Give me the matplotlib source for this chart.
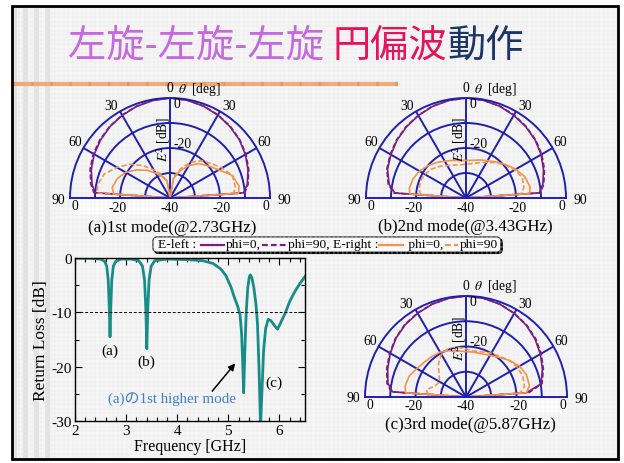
import matplotlib.pyplot as plt
import numpy as np
from matplotlib.patches import Rectangle, FancyBboxPatch
from matplotlib.ticker import MultipleLocator

plt.rcParams['font.family'] = ['Liberation Serif', 'Noto Sans CJK JP']
plt.rcParams['mathtext.fontset'] = 'stix'
plt.rcParams['axes.unicode_minus'] = False

W, H = 624, 464

# ---- return loss measurement ----
freq = [2.0, 2.3, 2.5, 2.58, 2.62, 2.65, 2.67, 2.685, 2.70, 2.72, 2.75, 2.8, 2.9,
        3.1, 3.25, 3.32, 3.36, 3.385, 3.405, 3.425, 3.45, 3.49, 3.56, 3.8,
        4.2, 4.5, 4.7, 4.85, 4.95, 5.05, 5.12, 5.18, 5.23, 5.26, 5.28, 5.30,
        5.32, 5.35, 5.38, 5.41, 5.43, 5.46, 5.50, 5.54, 5.57, 5.60, 5.63,
        5.66, 5.69, 5.73, 5.78, 5.83, 5.90, 5.96, 6.00, 6.05, 6.12, 6.20,
        6.30, 6.40, 6.50]
return_loss = [-0.05, -0.05, -0.2, -0.6, -1.5, -4.0, -9.0, -14.5, -9.0, -4.0, -1.5, -0.6, -0.2,
               -0.2, -0.5, -1.5, -4.0, -9.0, -16.7, -9.0, -4.0, -1.5, -0.5, -0.2,
               -0.3, -0.5, -1.0, -2.0, -3.2, -5.3, -7.3, -8.8, -10.5, -14.0, -19.0, -24.8,
               -18.0, -10.0, -5.5, -3.5, -3.1, -3.6, -5.5, -8.5, -12.0, -20.0, -31.0,
               -24.0, -17.0, -13.0, -11.3, -11.5, -12.4, -13.1, -12.4, -11.4, -10.0, -8.0,
               -6.2, -4.7, -3.4]

# ---- radiation patterns E^2 [dB] ----
theta_deg = [-90, -86, -80, -70, -60, -50, -40, -30, -20, -10, 0,
             10, 20, 30, 40, 50, 60, 70, 80, 86, 90]

a_left_phi0 = [-40, -10.0, -8.3, -6.5, -5.0, -3.8, -2.7, -1.8, -1.0, -0.4, 0.0,
               -0.3, -0.9, -1.7, -2.7, -3.8, -5.2, -6.8, -8.6, -10.5, -40]
a_left_phi90 = [-40, -9.5, -7.8, -6.0, -4.6, -3.5, -2.5, -1.7, -0.9, -0.3, 0.0,
                -0.3, -0.8, -1.6, -2.5, -3.6, -4.9, -6.5, -8.3, -10.0, -40]
a_right_phi0 = [-40, -17.5, -16.5, -17.5, -19.5, -22.5, -25.5, -28.5, -31.0, -33.0, -40,
                -32.0, -28.5, -25.0, -22.0, -20.0, -17.5, -13.5, -12.0, -12.5, -40]
a_right_phi90 = [-40, -11.0, -10.5, -12.0, -15.5, -19.0, -23.0, -27.0, -30.0, -33.0, -40,
                 -31.5, -27.5, -23.5, -20.5, -18.5, -16.0, -13.5, -13.5, -14.5, -40]

b_left_phi0 = [-40, -11.5, -8.8, -6.6, -5.3, -4.0, -2.9, -1.9, -1.0, -0.4, 0.0,
               -0.3, -0.9, -1.8, -2.8, -3.9, -5.3, -7.0, -8.8, -10.6, -40]
b_left_phi90 = [-40, -11.0, -8.4, -6.3, -5.0, -3.8, -2.7, -1.8, -0.9, -0.3, 0.0,
                -0.3, -0.8, -1.6, -2.6, -3.7, -5.0, -6.6, -8.4, -10.2, -40]
b_right_phi0 = [-40, -17.5, -17.0, -17.5, -18.5, -20.0, -21.5, -23.0, -24.0, -24.8, -25.0,
                -24.7, -23.8, -22.8, -21.2, -19.2, -17.0, -15.0, -14.0, -14.5, -40]
b_right_phi90 = [-40, -22.0, -21.0, -20.5, -21.0, -22.0, -23.5, -25.0, -26.0, -26.5, -26.5,
                 -26.0, -25.0, -23.5, -21.5, -19.5, -17.5, -16.0, -16.5, -18.0, -40]

c_left_phi0 = [-40, -10.8, -8.6, -7.0, -5.4, -3.8, -2.6, -1.7, -0.9, -0.3, 0.0,
               -0.3, -0.9, -1.8, -2.9, -4.3, -6.0, -7.8, -9.8, -16.0, -40]
c_left_phi90 = [-40, -10.3, -8.2, -6.6, -5.1, -3.6, -2.4, -1.6, -0.8, -0.3, 0.0,
                -0.3, -0.8, -1.7, -2.7, -4.0, -5.6, -7.4, -9.4, -15.0, -40]
c_right_phi0 = [-40, -16.0, -15.5, -16.0, -17.5, -18.5, -19.0, -19.5, -20.5, -21.5, -22.0,
                -22.0, -21.8, -21.0, -19.5, -17.5, -15.5, -14.5, -14.5, -16.0, -40]
c_right_phi90 = [-40, -25.0, -24.0, -27.0, -28.0, -26.0, -23.0, -20.5, -19.5, -20.0, -21.0,
                 -21.5, -21.0, -20.0, -19.0, -17.5, -16.5, -16.0, -16.5, -18.5, -40]

captions = ['(a)1st mode(@2.73GHz)', '(b)2nd mode(@3.43GHz)', '(c)3rd mode(@5.87GHz)']

BLUE = '#2020b0'
PURPLE = '#7a1f80'
ORANGE = '#f0944e'
TEAL = '#178c88'

fig = plt.figure(figsize=(W / 100, H / 100), dpi=100)
fig.patch.set_facecolor('white')

# slide background, drawn in pixel coordinates
bg = fig.add_axes([0, 0, 1, 1], zorder=-5)
bg.set_xlim(0, W)
bg.set_ylim(H, 0)
bg.axis('off')
bg.add_patch(Rectangle((12, 7), 606, 453, facecolor='#f5f5f5', edgecolor='none'))
for gx in np.arange(14, 618, 4.5):
    bg.plot([gx, gx], [7, 460], color='#eaeaea', lw=0.35)
for gy in np.arange(9, 460, 4.5):
    bg.plot([12, 618], [gy, gy], color='#eaeaea', lw=0.35)
for sx in np.arange(12, 55, 11):
    bg.add_patch(Rectangle((sx, 7), 5, 453, facecolor='#e1e1e1', edgecolor='none'))
bg.plot([12, 398], [85, 85], color='#ecab7a', lw=3, solid_capstyle='butt')
bg.plot([12, 398], [85, 85], color='#e09a66', lw=3, dashes=(0.6, 4))
bg.add_patch(Rectangle((12, 7), 606, 453, facecolor='none', edgecolor='black', lw=2, zorder=10))

renderer = fig.canvas.get_renderer()
to_px = bg.transData.inverted()


def run_text(x, y, pieces, **kw):
    # lay text pieces (or short line samples) one after another
    for piece in pieces:
        if isinstance(piece, tuple):
            color, ls, length = piece
            bg.plot([x + 1, x + 1 + length], [y, y], color=color, ls=ls, lw=1.6,
                    dashes=(2.6, 1.4) if ls == '--' else (None, None), zorder=3)
            x += length + 3
        else:
            t = bg.text(x, y, piece, va='center', ha='left', zorder=3, **kw)
            bb = t.get_window_extent(renderer)
            x = to_px.transform((bb.x1, bb.y0))[0]
    return x


# title
x_next = run_text(68, 46, ['左旋-左旋-左旋 '], fontsize=27.5, color='#c46ade',
                  family='Noto Sans CJK JP')
x_next = run_text(x_next, 46, ['円偏波'], fontsize=27.5, color='#e3145c',
                  family='Noto Sans CJK JP')
run_text(x_next, 46, ['動作'], fontsize=27.5, color='#1b3566', family='Noto Sans CJK JP')


def polar_panel(cx, cy, R, curves, caption, cap_xy):
    ax = fig.add_axes([(cx - R) / W, (H - (cy + 0.5 * R)) / H, 2 * R / W, 2 * R / H],
                      projection='polar')
    ax.set_theta_zero_location('N')
    ax.set_theta_direction(-1)
    ax.set_thetamin(-90)
    ax.set_thetamax(90)
    ax.set_ylim(-40, 0)
    ax.set_rticks([-30, -20, -10])
    ax.set_thetagrids([-60, -30, 0, 30, 60])
    ax.set_xticklabels([])
    ax.set_yticklabels([])
    ax.grid(True, color=BLUE, lw=1.4, ls='-')
    for sp in ax.spines.values():
        sp.set_color(BLUE)
        sp.set_linewidth(1.4)
    ax.patch.set_alpha(0)
    th = np.deg2rad(theta_deg)
    for vals, color, ls in curves:
        ax.plot(th, vals, color=color, ls=ls, lw=1.2,
                dashes=(3, 1.5) if ls == '--' else (None, None))

    def lab(t, r, s, dx, dy, **kw):
        ax.annotate(s, xy=(np.deg2rad(t), r), xytext=(dx * 0.72, dy * 0.72),
                    textcoords='offset points', ha=kw.pop('ha', 'center'),
                    va=kw.pop('va', 'center'), fontsize=kw.pop('fontsize', 9.8),
                    annotation_clip=False, **kw)

    lab(0, 0, '0', 0, 10)
    lab(0, 0, r'$\theta$  [deg]', 8, 10, ha='left')
    lab(-30, 0, '30', -9, 6)
    lab(30, 0, '30', 9, 6)
    lab(-60, 0, '60', -8, 6)
    lab(60, 0, '60', 8, 6)
    lab(-90, 0, '90', -12, -1)
    lab(90, 0, '90', 14, -2)
    lab(-90, 0, '0', 5, -8)
    lab(-90, -20, '-20', -2, -9)
    lab(0, -40, '-40', 0, -9)
    lab(90, -20, '-20', 2, -9)
    lab(90, 0, '0', -4, -8)
    lab(0, 0, '0', 7, -6)
    lab(0, -20, '-20', 13, 5)
    lab(0, -16.4, r'$E^2$ [dB]', -7, 0, rotation=90)

    bg.add_patch(Rectangle((cx - R + 2, cy + 2), 2 * R - 2, 15, facecolor='white',
                           edgecolor='none'))
    bg.text(cap_xy[0], cap_xy[1], caption, ha='center', va='center', fontsize=12.2)
    return ax


polar_panel(170, 199, 100,
            [(a_left_phi0, PURPLE, '-'), (a_left_phi90, PURPLE, '--'),
             (a_right_phi0, ORANGE, '-'), (a_right_phi90, ORANGE, '--')],
            captions[0], (172, 228))
polar_panel(466, 199, 100,
            [(b_left_phi0, PURPLE, '-'), (b_left_phi90, PURPLE, '--'),
             (b_right_phi0, ORANGE, '-'), (b_right_phi90, ORANGE, '--')],
            captions[1], (465, 227))
polar_panel(466, 398, 101,
            [(c_left_phi0, PURPLE, '-'), (c_left_phi90, PURPLE, '--'),
             (c_right_phi0, ORANGE, '-'), (c_right_phi90, ORANGE, '--')],
            captions[2], (470, 425))

# legend strip
lx0, ly = 153, 245.5
lx1 = run_text(lx0 + 5, ly, ['E-left : ', (PURPLE, '-', 23), 'phi=0,', (PURPLE, '--', 24),
                             'phi=90, E-right :', (ORANGE, '-', 24), ' phi=0,',
                             (ORANGE, '--', 13), 'phi=90'], fontsize=9.7)
bg.add_patch(FancyBboxPatch((lx0 + 1.5, 239.5), lx1 + 3 - lx0, 15,
                            boxstyle='round,pad=0,rounding_size=4',
                            facecolor='black', edgecolor='black', lw=0.8, zorder=1))
bg.add_patch(FancyBboxPatch((lx0, 238), lx1 + 3 - lx0, 15,
                            boxstyle='round,pad=0,rounding_size=4',
                            facecolor='white', edgecolor='black', lw=0.8, zorder=1.5))

# return loss plot
ax = fig.add_axes([75 / W, (H - 422) / H, 230 / W, 163 / H])
ax.patch.set_alpha(0)
ax.plot(freq, return_loss, color=TEAL, lw=2.0)
ax.axhline(-10, color='black', lw=0.7, dashes=(3, 2))
ax.set_xlim(2, 6.5)
ax.set_ylim(-30, 0)
ax.set_xticks([2, 3, 4, 5, 6])
ax.set_yticks([0, -10, -20, -30])
ax.xaxis.set_minor_locator(MultipleLocator(0.2))
ax.yaxis.set_minor_locator(MultipleLocator(5))
ax.tick_params(which='both', direction='in', top=True, right=True, labelsize=11,
               width=0.8, pad=2)
ax.tick_params(which='major', length=5)
ax.tick_params(which='minor', length=3)
for sp in ax.spines.values():
    sp.set_linewidth(1.0)
ax.set_xlabel('Frequency [GHz]', fontsize=11.5, labelpad=1)
ax.set_ylabel('Return Loss [dB]', fontsize=12.5, labelpad=2)

ax.text(2.69, -16.9, '(a)', ha='center', va='center', fontsize=11)
ax.text(3.40, -19.0, '(b)', ha='center', va='center', fontsize=11)
ax.text(5.89, -22.8, '(c)', ha='center', va='center', fontsize=11)
ax.text(3.9, -25.7, '(a)の1st higher mode', ha='center', va='center', fontsize=10.8,
        color='#3b7fcc')
ax.annotate('', xy=(5.17, -19.0), xytext=(4.65, -24.9),
            arrowprops=dict(arrowstyle='-|>', color='black', lw=1.1, mutation_scale=10))

fig.savefig('out.png', dpi=100)
